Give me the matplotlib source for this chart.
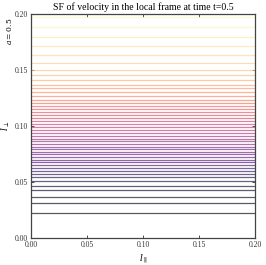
import matplotlib
matplotlib.use("Agg")
import matplotlib.pyplot as plt
import numpy as np

# l_perp positions of the SF contour lines (bottom to top)
levels = [0.0226, 0.0311, 0.0373, 0.0427, 0.0471, 0.0512, 0.0547, 0.0577,
          0.0604, 0.0630, 0.0654, 0.0679, 0.0702, 0.0726, 0.0750, 0.0773,
          0.0796, 0.0818, 0.0842, 0.0866, 0.0889, 0.0913, 0.0940, 0.0964,
          0.0991, 0.1018, 0.1043, 0.1071, 0.1098, 0.1125, 0.1154, 0.1181,
          0.1208, 0.1239, 0.1271, 0.1304, 0.1338, 0.1373, 0.1409, 0.1454,
          0.1500, 0.1565, 0.1634, 0.1713, 0.1795, 0.1884, 0.1973]
xticks = [0.00, 0.05, 0.10, 0.15, 0.20]
yticks = [0.00, 0.05, 0.10, 0.15, 0.20]

plt.rcParams['font.family'] = ['Liberation Serif', 'DejaVu Serif']
plt.rcParams['mathtext.fontset'] = 'dejavuserif'

fig = plt.figure(figsize=(2.66, 2.65), dpi=100)
ax = fig.add_axes([0.1165, 0.1008, 0.8421, 0.8452])

cmap = plt.get_cmap('magma')
colors = [cmap(i / (len(levels) - 1)) for i in range(len(levels))]
ax.hlines(levels, 0.0, 0.2, colors=colors, linewidth=0.9, alpha=0.65)

ax.set_xlim(0, 0.2)
ax.set_ylim(0, 0.2)
ax.set_xticks(xticks)
ax.set_yticks(yticks)
ax.set_xticklabels([f"{t:.2f}" for t in xticks])
ax.set_yticklabels([f"{t:.2f}" for t in yticks])
ax.tick_params(direction='in', length=2.5, width=0.6, labelsize=5.5,
               top=True, right=True, pad=2, colors='#333333')
for s in ax.spines.values():
    s.set_linewidth(0.9)
    s.set_color('#444444')

ax.set_title("SF of velocity in the local frame at time t=0.5", fontsize=7, pad=3)
ax.set_xlabel(r"$l_\parallel$", fontsize=6.5, labelpad=2)
ax.set_ylabel(r"$l_\perp$", fontsize=6.5, labelpad=2)
fig.text(0.035, 0.88, r"$a=0.5$", rotation=90, fontsize=5.5, ha='center', va='center')

fig.savefig("out.png", dpi=100)
